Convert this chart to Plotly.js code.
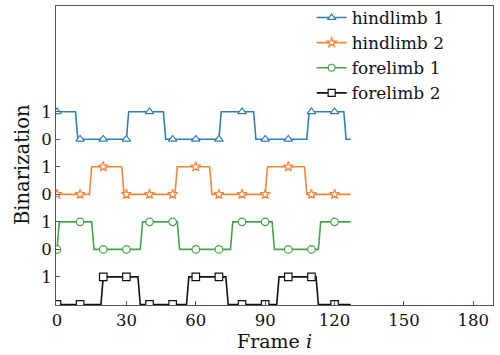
<!DOCTYPE html>
<html>
<head>
<meta charset="utf-8">
<script src="https://cdn.plot.ly/plotly-3.0.1.min.js"></script>
<style>html,body{margin:0;padding:0;background:#fff;}#chart{width:500px;height:355px;}</style>
</head>
<body>
<div id="chart"></div>
<script>
// Frame indices 0..127
var frames = [];
for (var f = 0; f < 128; f++) frames.push(f);

// Binarized states (one value per frame)
var hindlimb1 = [1,1,1,1,1,1,1,1,1,0,0,0,0,0,0,0,0,0,0,0,0,0,0,0,0,0,0,0,0,0,0,1,1,1,1,1,1,1,1,1,1,1,1,1,1,1,1,0,0,0,0,0,0,0,0,0,0,0,0,0,0,0,0,0,0,0,0,0,0,0,0,1,1,1,1,1,1,1,1,1,1,1,1,1,1,1,0,0,0,0,0,0,0,0,0,0,0,0,0,0,0,0,0,0,0,0,0,0,0,1,1,1,1,1,1,1,1,1,1,1,1,1,1,1,1,0,0,0];
var hindlimb2 = [0,0,0,0,0,0,0,0,0,0,0,0,0,0,0,1,1,1,1,1,1,1,1,1,1,1,1,1,1,0,0,0,0,0,0,0,0,0,0,0,0,0,0,0,0,0,0,0,0,0,0,0,1,1,1,1,1,1,1,1,1,1,1,1,1,1,1,0,0,0,0,0,0,0,0,0,0,0,0,0,0,0,0,0,0,0,0,0,0,0,0,1,1,1,1,1,1,1,1,1,1,1,1,1,1,1,1,1,0,0,0,0,0,0,0,0,0,0,0,0,0,0,0,0,0,0,0,0,0];
var forelimb1 = [0,1,1,1,1,1,1,1,1,1,1,1,1,1,1,1,0,0,0,0,0,0,0,0,0,0,0,0,0,0,0,0,0,0,0,0,0,1,1,1,1,1,1,1,1,1,1,1,1,1,1,1,1,0,0,0,0,0,0,0,0,0,0,0,0,0,0,0,0,0,0,0,0,0,0,0,1,1,1,1,1,1,1,1,1,1,1,1,1,1,1,1,1,1,0,0,0,0,0,0,0,0,0,0,0,0,0,0,0,0,0,0,0,0,1,1,1,1,1,1,1,1,1,1,1,1,1,1];
var forelimb2 = [0,0,0,0,0,0,0,0,0,0,0,0,0,0,0,0,0,0,0,0,1,1,1,1,1,1,1,1,1,1,1,1,1,1,1,1,0,0,0,0,0,0,0,0,0,0,0,0,0,0,0,0,0,0,0,0,0,1,1,1,1,1,1,1,1,1,1,1,1,1,1,1,1,1,0,0,0,0,0,0,0,0,0,0,0,0,0,0,0,0,0,0,0,0,0,0,1,1,1,1,1,1,1,1,1,1,1,1,1,1,1,1,1,0,0,0,0,0,0,0,0,0,0,0,0,0,0,0];

var seriesNames = ['hindlimb 1', 'hindlimb 2', 'forelimb 1', 'forelimb 2'];
var seriesData = [hindlimb1, hindlimb2, forelimb1, forelimb2];

var xTicks = [0, 30, 60, 90, 120, 150, 180];
var yTickText = ['1', '0', '1', '0', '1', '0', '1'];

// styling
var offsets = [6, 4, 2, 0];
var colors = ['#2f7ebc', '#f7853a', '#45a649', '#111111'];
var symbols = ['triangle-up', 'star', 'circle', 'square'];
var markerStep = 10;
var FONT = 'DejaVu Serif';

var traces = [];
seriesData.forEach(function (vals, k) {
  var y = vals.map(function (v) { return v + offsets[k]; });
  traces.push({
    x: frames, y: y, mode: 'lines', showlegend: false, hoverinfo: 'skip',
    line: {color: colors[k], width: 1.6}
  });
  var mx = [], my = [];
  frames.forEach(function (fr, i) { if (fr % markerStep === 0) { mx.push(fr); my.push(y[i]); } });
  traces.push({
    x: mx, y: my, mode: 'markers', showlegend: false,
    marker: {symbol: symbols[k], size: 7.5, color: '#ffffff',
             line: {color: colors[k], width: 1.2}}
  });
});
// legend entries
seriesData.forEach(function (vals, k) {
  traces.push({
    x: [null], y: [null], mode: 'lines+markers', name: seriesNames[k],
    line: {color: colors[k], width: 1.6},
    marker: {symbol: symbols[k], size: 7, color: '#ffffff',
             line: {color: colors[k], width: 1.2}}
  });
});

var yTickVals = yTickText.map(function (t, i) { return i + 1; });

var layout = {
  width: 500, height: 355,
  margin: {l: 56, r: 7, t: 0, b: 50},
  paper_bgcolor: '#fff', plot_bgcolor: '#fff',
  font: {family: FONT, color: '#111', size: 16},
  showlegend: true,
  legend: {x: 0.585, xanchor: 'left', y: 1, yanchor: 'top',
           bgcolor: 'rgba(0,0,0,0)', font: {family: FONT, size: 17, color: '#111'},
           tracegroupgap: 0, itemwidth: 30},
  xaxis: {
    range: [-0.43, 188.5], tickvals: xTicks, ticks: 'inside', ticklen: 4,
    tickcolor: '#555', showline: true, linecolor: '#555', linewidth: 1, mirror: true,
    showgrid: false, zeroline: false,
    tickfont: {family: FONT, size: 16.5, color: '#111'},
    title: {text: 'Frame <i>i</i>', font: {family: FONT, size: 19, color: '#111'}, standoff: 3}
  },
  yaxis: {
    domain: [0, 0.9803],
    range: [-0.02, 10.84], tickvals: yTickVals, ticktext: yTickText, ticks: 'inside', ticklen: 4,
    tickcolor: '#555', showline: true, linecolor: '#555', linewidth: 1, mirror: true,
    showgrid: false, zeroline: false,
    tickfont: {family: FONT, size: 16.5, color: '#111'}
  },
  annotations: [{
    text: 'Binarization', textangle: -90, showarrow: false,
    xref: 'paper', yref: 'paper', x: -0.077, y: 0.46, xanchor: 'center', yanchor: 'middle',
    font: {family: FONT, size: 19.5, color: '#111'}
  }]
};

Plotly.newPlot('chart', traces, layout, {staticPlot: true, displayModeBar: false});
</script>
</body>
</html>
